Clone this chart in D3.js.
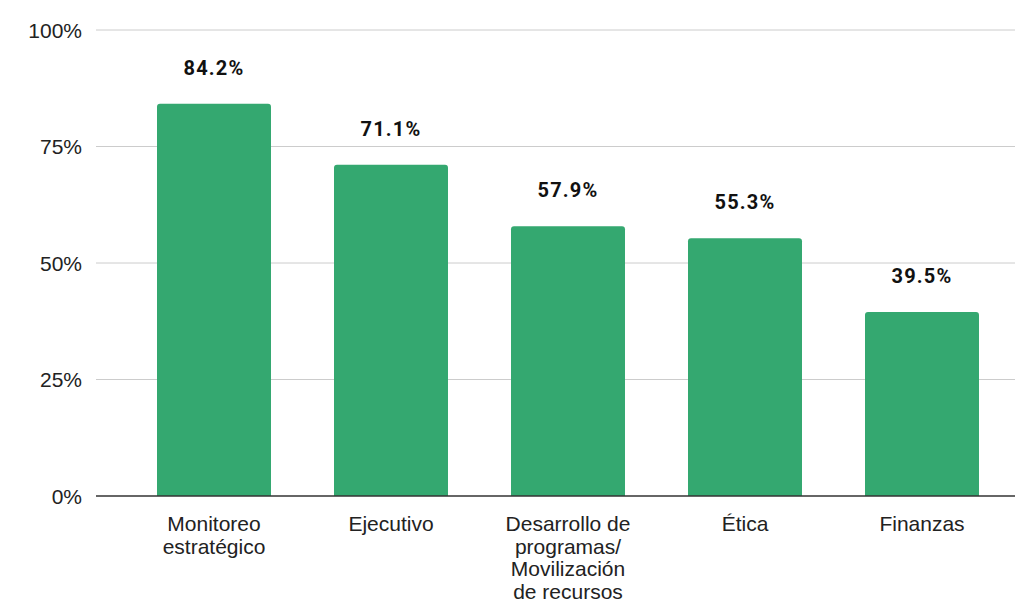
<!DOCTYPE html>
<html>
<head>
<meta charset="utf-8">
<script src="https://cdn.jsdelivr.net/npm/d3@7.9.0/dist/d3.min.js"></script>
<style>
  body { margin: 0; background: #fff; }
  svg { display: block; }
</style>
</head>
<body>
<div id="chart"></div>
<script>
// ---- data ----
const categories = [
  'Monitoreo\nestratégico',
  'Ejecutivo',
  'Desarrollo de\nprogramas/\nMovilización\nde recursos',
  'Ética',
  'Finanzas'
];
const values = [84.2, 71.1, 57.9, 55.3, 39.5];
const yTicks = [0, 25, 50, 75, 100];

const width = 1015, height = 612;
const plotLeft = 96, plotRight = 1015;
const y0 = 496, y1 = 30;
const barColor = '#34a870';

const svg = d3.select('#chart').append('svg')
  .attr('width', width)
  .attr('height', height);

const x = d3.scaleBand()
  .domain(categories)
  .range([125.5, 1010.5])
  .paddingInner(0.356)
  .paddingOuter(0.178);

const y = d3.scaleLinear().domain([0, 100]).range([y0, y1]);

// gridlines
svg.append('g')
  .selectAll('line')
  .data(yTicks.filter(t => t > 0))
  .join('line')
  .attr('x1', plotLeft).attr('x2', plotRight)
  .attr('y1', d => y(d)).attr('y2', d => y(d))
  .attr('stroke', '#cccccc')
  .attr('stroke-width', 1);

// y tick labels
svg.append('g')
  .selectAll('text')
  .data(yTicks)
  .join('text')
  .attr('x', 82)
  .attr('y', d => y(d) + 7.5)
  .attr('text-anchor', 'end')
  .attr('font-family', 'Liberation Sans, Arial, sans-serif')
  .attr('font-size', 21)
  .attr('fill', '#222')
  .text(d => d + '%');

// bars with rounded top corners
const r = 3;
svg.append('g')
  .selectAll('path')
  .data(values)
  .join('path')
  .attr('fill', barColor)
  .attr('d', (d, i) => {
    const bx = x(categories[i]), bw = x.bandwidth();
    const top = y(d), bottom = y(0);
    return `M${bx},${bottom}V${top + r}Q${bx},${top} ${bx + r},${top}` +
      `H${bx + bw - r}Q${bx + bw},${top} ${bx + bw},${top + r}V${bottom}Z`;
  });

// baseline
svg.append('line')
  .attr('x1', plotLeft).attr('x2', plotRight)
  .attr('y1', y(0)).attr('y2', y(0))
  .attr('stroke', '#333')
  .attr('stroke-width', 1.5);

// value labels
svg.append('g')
  .selectAll('text')
  .data(values)
  .join('text')
  .attr('x', (d, i) => x(categories[i]) + x.bandwidth() / 2)
  .attr('y', d => y(d) - 29)
  .attr('text-anchor', 'middle')
  .attr('font-family', 'Roboto, Arial, sans-serif')
  .attr('font-weight', 700)
  .attr('font-size', 20)
  .attr('letter-spacing', 1.2)
  .attr('fill', '#111')
  .text(d => d.toFixed(1) + '%');

// category labels
svg.append('g')
  .selectAll('text')
  .data(categories)
  .join('text')
  .attr('x', d => x(d) + x.bandwidth() / 2)
  .attr('y', 531)
  .attr('text-anchor', 'middle')
  .attr('font-family', 'Liberation Sans, Arial, sans-serif')
  .attr('font-size', 21)
  .attr('fill', '#222')
  .each(function(d) {
    const t = d3.select(this);
    d.split('\n').forEach((line, k) => {
      t.append('tspan')
        .attr('x', x(d) + x.bandwidth() / 2)
        .attr('dy', k === 0 ? 0 : 22.5)
        .text(line);
    });
  });
</script>
</body>
</html>
